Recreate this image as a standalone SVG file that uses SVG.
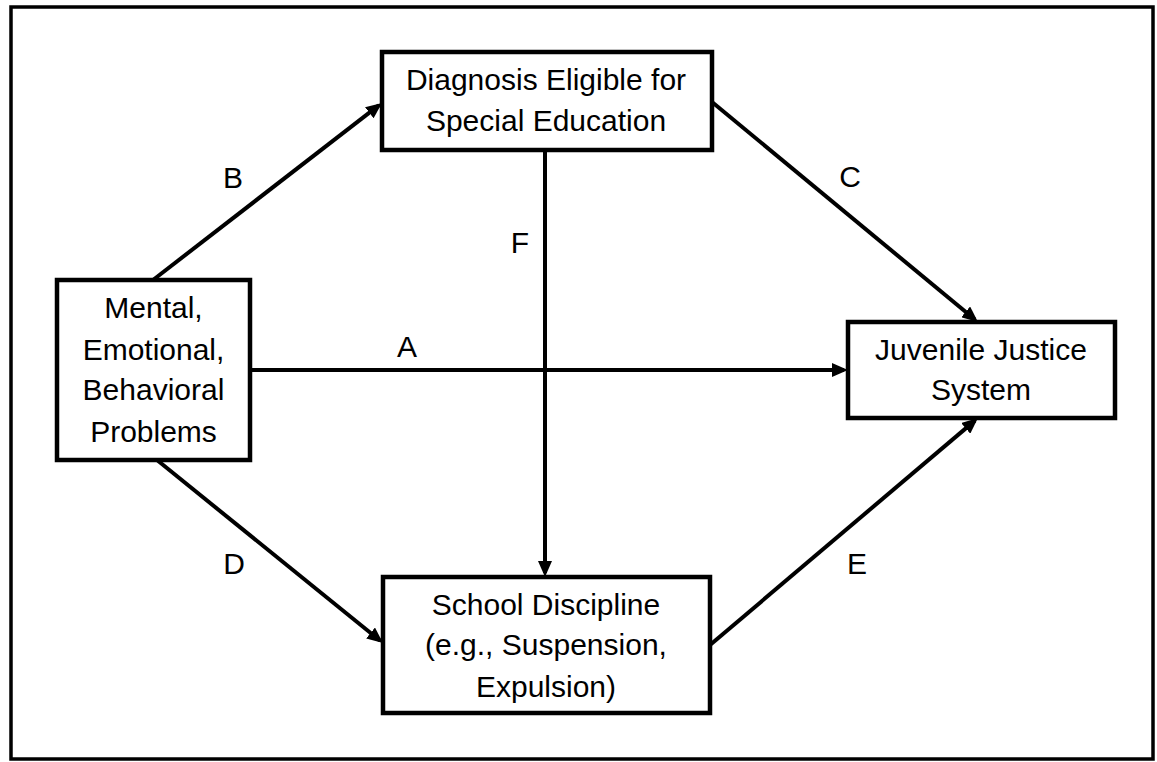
<svg xmlns="http://www.w3.org/2000/svg" width="1157" height="762" viewBox="0 0 1157 762">
<style>
.frame{fill:#fff;stroke:#000;stroke-width:3.5}
.box{fill:#fff;stroke:#000;stroke-width:4.5}
.t{font-family:"Liberation Sans",Arial,sans-serif;font-size:30px;fill:#000;text-anchor:middle}
.c{stroke:#000;stroke-width:4;fill:none;marker-end:url(#ah)}
</style>
<defs>
<marker id="ah" markerUnits="userSpaceOnUse" markerWidth="16" markerHeight="14" refX="12" refY="7" orient="auto">
<path d="M0,0 L16,7 L0,14 z" fill="#000"/>
</marker>
</defs>
<rect class="frame" x="11" y="7" width="1142" height="752"/>
<g id="connectors">
<line class="c" x1="250" y1="370" x2="844" y2="370"/>
<line class="c" x1="153" y1="280" x2="378.8" y2="105.4"/>
<line class="c" x1="712" y1="102" x2="974.9" y2="319.5"/>
<line class="c" x1="157" y1="460" x2="379.9" y2="640.5"/>
<line class="c" x1="710" y1="645" x2="974.9" y2="420.6"/>
<line class="c" x1="545" y1="150" x2="545" y2="573"/>
<text class="t" x="407" y="357">A</text>
<text class="t" x="233" y="188">B</text>
<text class="t" x="850" y="187">C</text>
<text class="t" x="234" y="574">D</text>
<text class="t" x="857" y="574">E</text>
<text class="t" x="520" y="253">F</text>
</g>
<g id="diagnosis">
<rect class="box" x="382" y="52" width="330" height="98"/>
<text class="t" x="546" y="90">Diagnosis Eligible for</text>
<text class="t" x="546" y="131">Special Education</text>
</g>
<g id="mental">
<rect class="box" x="57" y="280" width="193" height="180"/>
<text class="t" x="153.5" y="318">Mental,</text>
<text class="t" x="153.5" y="360">Emotional,</text>
<text class="t" x="153.5" y="400">Behavioral</text>
<text class="t" x="153.5" y="442">Problems</text>
</g>
<g id="juvenile">
<rect class="box" x="848" y="322" width="267" height="96"/>
<text class="t" x="981" y="360">Juvenile Justice</text>
<text class="t" x="981" y="400">System</text>
</g>
<g id="discipline">
<rect class="box" x="383" y="577" width="327" height="136"/>
<text class="t" x="546" y="615">School Discipline</text>
<text class="t" x="546" y="655">(e.g., Suspension,</text>
<text class="t" x="546" y="697">Expulsion)</text>
</g>
</svg>
